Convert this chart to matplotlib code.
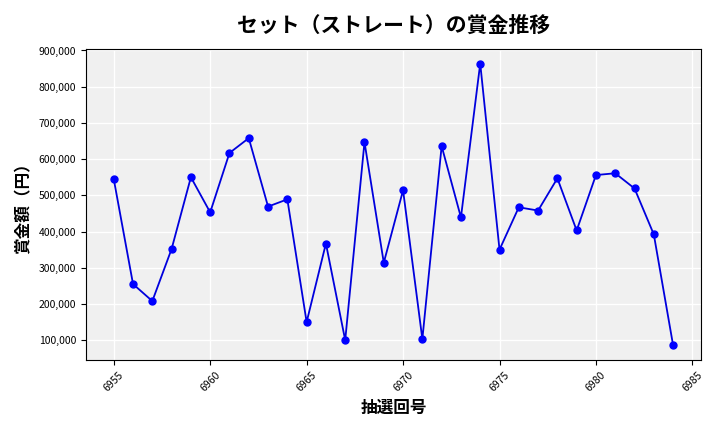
import matplotlib
matplotlib.use("Agg")
import matplotlib.pyplot as plt
from matplotlib.ticker import FuncFormatter

plt.rcParams['font.family'] = ['Noto Sans CJK JP', 'DejaVu Sans']

draws = list(range(6955, 6985))
prizes = [545000, 255000, 208000, 352000, 550000, 453000, 617000, 658000, 469000, 489000,
          150000, 367000, 100000, 647000, 314000, 514000, 103000, 636000, 439000, 864000,
          350000, 467000, 458000, 547000, 403000, 556000, 561000, 519000, 392000, 86000]

fig, ax = plt.subplots(figsize=(7.2, 4.32), dpi=100)
ax.set_facecolor('#f0f0f0')
ax.grid(True, color='white', linewidth=1)
ax.set_axisbelow(True)
ax.plot(draws, prizes, color='#0000dd', marker='o', markersize=5,
        markerfacecolor='blue', markeredgecolor='blue', linewidth=1.3)
ax.set_title('セット（ストレート）の賞金推移', fontsize=15, fontweight='bold', pad=12)
ax.set_xlabel('抽選回号', fontsize=12, fontweight='bold')
ax.set_ylabel('賞金額（円）', fontsize=12, fontweight='bold')
ax.set_xticks(range(6955, 6986, 5))
ax.set_yticks(range(100000, 900001, 100000))
ax.yaxis.set_major_formatter(FuncFormatter(lambda v, p: f'{int(v):,}'))
ax.tick_params(axis='both', labelsize=7.5)
plt.setp(ax.get_xticklabels(), rotation=45)
ax.set_ylim(45000, 905000)
fig.tight_layout()
fig.savefig('out.png')
